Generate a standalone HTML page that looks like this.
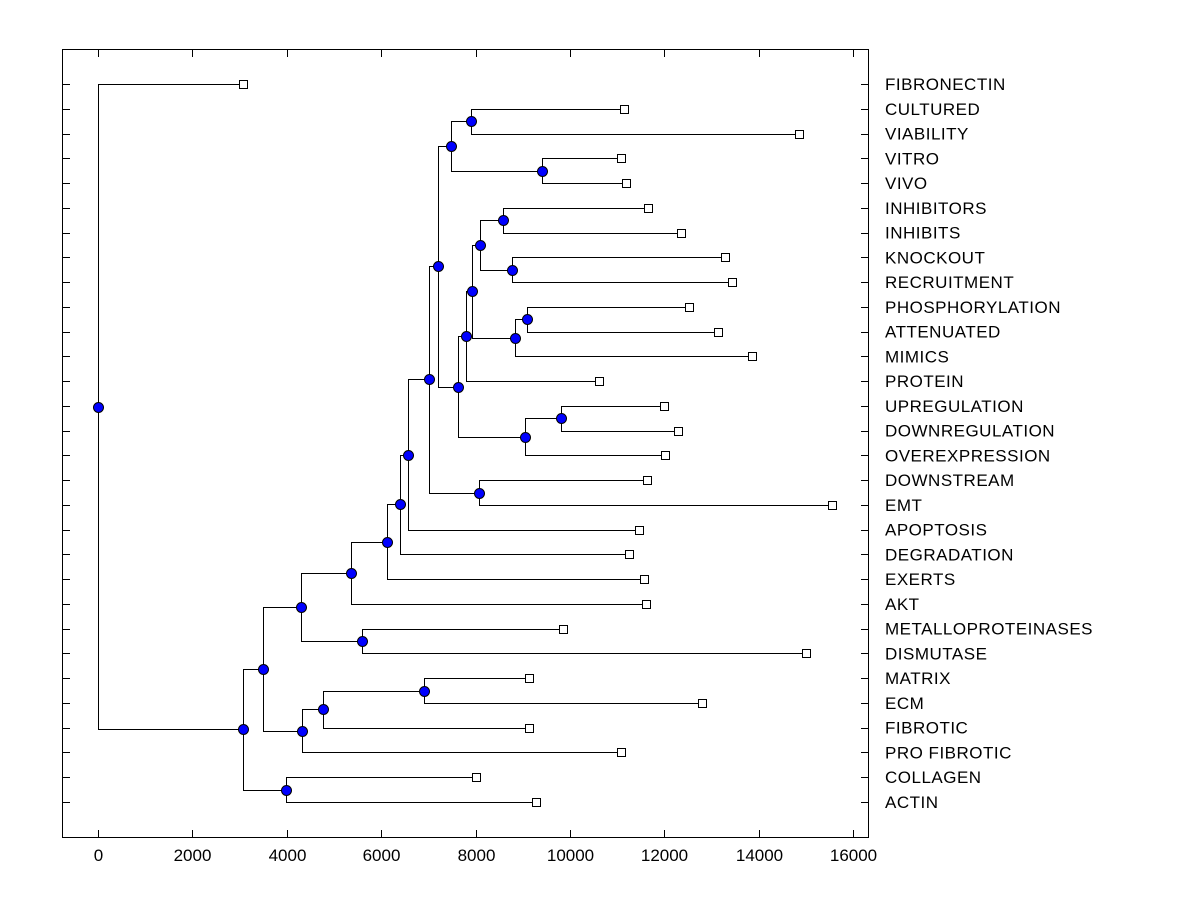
<!DOCTYPE html>
<html><head><meta charset="utf-8"><style>
body{margin:0;background:#fff}
svg{display:block;font-family:"Liberation Sans",Arial,sans-serif}
</style></head><body>
<svg id="c" width="1200" height="900"></svg>
<script>
const leafNames=["FIBRONECTIN","CULTURED","VIABILITY","VITRO","VIVO","INHIBITORS","INHIBITS","KNOCKOUT","RECRUITMENT","PHOSPHORYLATION","ATTENUATED","MIMICS","PROTEIN","UPREGULATION","DOWNREGULATION","OVEREXPRESSION","DOWNSTREAM","EMT","APOPTOSIS","DEGRADATION","EXERTS","AKT","METALLOPROTEINASES","DISMUTASE","MATRIX","ECM","FIBROTIC","PRO FIBROTIC","COLLAGEN","ACTIN"];
const leafValues=[3073,11146,14855,11083,11189,11655,12354,13287,13435,12524,13138,13859,10617,11994,12291,12015,11634,15554,11464,11252,11570,11612,9854,15003,9133,12799,9133,11083,8010,9282];
// internal nodes: [name, value, childA, childB]
const nodes=[
["C",3984,"COLLAGEN","ACTIN"],
["G",6908,"MATRIX","ECM"],
["F",4768,"G","FIBROTIC"],
["E",4323,"F","PRO FIBROTIC"],
["I",5594,"METALLOPROTEINASES","DISMUTASE"],
["O",8074,"DOWNSTREAM","EMT"],
["R",7904,"CULTURED","VIABILITY"],
["S",9409,"VITRO","VIVO"],
["P",7480,"R","S"],
["Z",8582,"INHIBITORS","INHIBITS"],
["AA",8773,"KNOCKOUT","RECRUITMENT"],
["X",8095,"Z","AA"],
["BB",9091,"PHOSPHORYLATION","ATTENUATED"],
["Y",8837,"BB","MIMICS"],
["W",7925,"X","Y"],
["T",7798,"W","PROTEIN"],
["V",9811,"UPREGULATION","DOWNREGULATION"],
["U",9048,"V","OVEREXPRESSION"],
["Q",7629,"T","U"],
["N",7205,"P","Q"],
["M",7014,"N","O"],
["L",6569,"M","APOPTOSIS"],
["K",6400,"L","DEGRADATION"],
["J",6124,"K","EXERTS"],
["H",5361,"J","AKT"],
["D",4302,"H","I"],
["B",3497,"D","E"],
["A",3073,"B","C"],
["ROOT",0,"FIBRONECTIN","A"]
];
const xTicks=[0,2000,4000,6000,8000,10000,12000,14000,16000];
const NS="http://www.w3.org/2000/svg";
const svg=document.getElementById('c');
const L=62,R=869,T=49,B=838;
const xs=v=>98+v*0.04719;
const ys=i=>84+i*(802-84)/29;
function mk(t,a,p){const e=document.createElementNS(NS,t);for(const k in a)e.setAttribute(k,a[k]);(p||svg).appendChild(e);return e;}
const frame=mk('rect',{x:L+0.5,y:T+0.5,width:R-L-1,height:B-T-1,fill:'none',stroke:'#000'});


const pos={};
leafNames.forEach((n,i)=>{pos[n]={x:xs(leafValues[i]),y:ys(i)};});
nodes.forEach(n=>{const a=pos[n[2]],b=pos[n[3]];pos[n[0]]={x:xs(n[1]),y:(a.y+b.y)/2};});
const lg=mk('g',{stroke:'#000','stroke-width':1,fill:'none'});


nodes.forEach(n=>{const p=pos[n[0]],a=pos[n[2]],b=pos[n[3]];
const px=Math.round(p.x)+0.5;
const path=mk('path',{d:`M${a.x},${Math.round(a.y)+0.5}H${px}V${Math.round(b.y)+0.5}H${b.x}`},lg);

});
for(let i=0;i<leafNames.length;i++){const y=Math.round(ys(i))+0.5;
mk('line',{x1:L,x2:L+8,y1:y,y2:y,stroke:'#000'});mk('line',{x1:R-8,x2:R,y1:y,y2:y,stroke:'#000'});}
xTicks.forEach(v=>{const x=Math.round(xs(v))+0.5;
mk('line',{x1:x,x2:x,y1:B,y2:B-8,stroke:'#000'});mk('line',{x1:x,x2:x,y1:T,y2:T+8,stroke:'#000'});
const t=mk('text',{x:x,y:861,'text-anchor':'middle','font-size':17});t.textContent=v;

});
leafNames.forEach((n,i)=>{const p=pos[n];
const r=mk('rect',{x:Math.round(p.x)-4+0.5,y:Math.round(p.y)-4+0.5,width:8,height:8,fill:'#fff',stroke:'#000'});


const t=mk('text',{x:885,y:p.y+6,'font-size':17,'letter-spacing':0.5});t.textContent=n;

});
nodes.forEach(n=>{const p=pos[n[0]];
const c=mk('circle',{cx:Math.round(p.x)+0.5,cy:Math.round(p.y)+0.5,r:5,fill:'#0000ff',stroke:'#000'});

});
</script>
</body></html>
